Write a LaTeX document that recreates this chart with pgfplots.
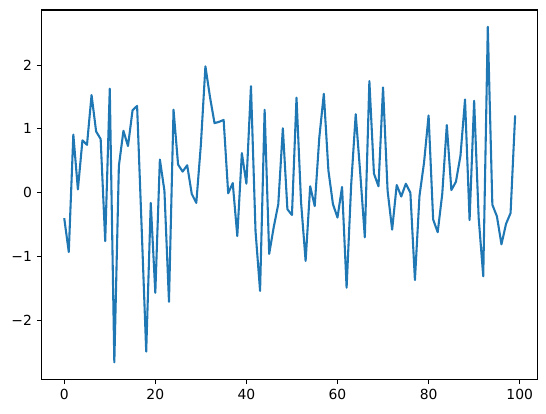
\documentclass[border=0pt]{standalone}
\usepackage{pgfplots}
\pgfplotsset{compat=1.18}
\usepackage{fontspec}
\setmainfont{DejaVu Sans}
\definecolor{mplblue}{HTML}{1F77B4}

\begin{document}
\begin{tikzpicture}
\begin{axis}[
    name=main,
    scale only axis,
    width=357pt,
    height=265.7pt,
    xmin=-4.95, xmax=103.95,
    ymin=-2.923, ymax=2.863,
    xtick={0,20,40,60,80,100},
    ytick={-2,-1,0,1,2},
    yticklabels={−2,−1,0,1,2},
    tick align=outside,
    major tick length=3.5pt,
    every tick/.style={black, line width=0.8pt},
    axis line style={line width=0.8pt},
    tick pos=left,
    ticklabel style={font=\fontsize{10}{12}\selectfont},
    /pgf/number format/assume math mode=true,
    ]
\addplot[mplblue, line width=1.5pt, line join=round, mark=none] coordinates {
 (0,-0.40) (1,-0.93) (2,0.91) (3,0.05) (4,0.82) (5,0.75) (6,1.53) (7,0.96) (8,0.84) (9,-0.76)
 (10,1.63) (11,-2.66) (12,0.42) (13,0.97) (14,0.73) (15,1.29) (16,1.36) (17,-0.55) (18,-2.49) (19,-0.16)
 (20,-1.57) (21,0.52) (22,0.03) (23,-1.71) (24,1.30) (25,0.44) (26,0.33) (27,0.43) (28,-0.02) (29,-0.16)
 (30,0.75) (31,1.98) (32,1.50) (33,1.09) (34,1.11) (35,1.14) (36,-0.01) (37,0.15) (38,-0.68) (39,0.62)
 (40,0.14) (41,1.67) (42,-0.60) (43,-1.54) (44,1.30) (45,-0.96) (46,-0.54) (47,-0.18) (48,1.01) (49,-0.26)
 (50,-0.35) (51,1.49) (52,-0.15) (53,-1.07) (54,0.10) (55,-0.21) (56,0.86) (57,1.55) (58,0.35) (59,-0.18)
 (60,-0.39) (61,0.09) (62,-1.49) (63,0.12) (64,1.23) (65,0.30) (66,-0.70) (67,1.75) (68,0.30) (69,0.10)
 (70,1.65) (71,0.03) (72,-0.58) (73,0.12) (74,-0.06) (75,0.14) (76,0.00) (77,-1.37) (78,-0.05) (79,0.47)
 (80,1.21) (81,-0.42) (82,-0.62) (83,-0.02) (84,1.06) (85,0.04) (86,0.17) (87,0.58) (88,1.46) (89,-0.43)
 (90,1.44) (91,-0.40) (92,-1.31) (93,2.60) (94,-0.19) (95,-0.37) (96,-0.81) (97,-0.49) (98,-0.32) (99,1.21)
};
\end{axis}
\path (main.south west) ++(-30pt,-24.5pt) coordinate (bl);
\path (main.north east) ++(6pt,7.2pt) coordinate (tr);
\end{tikzpicture}
\end{document}
